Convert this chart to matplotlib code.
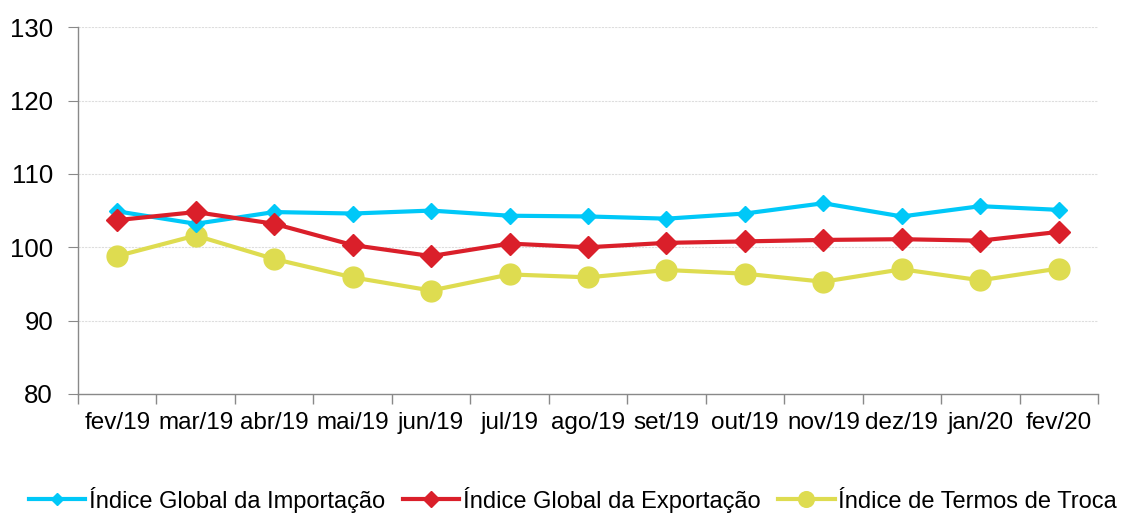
import matplotlib.pyplot as plt
import numpy as np

plt.rcParams['font.family'] = ['Liberation Sans', 'DejaVu Sans']

months = ['fev/19', 'mar/19', 'abr/19', 'mai/19', 'jun/19', 'jul/19', 'ago/19',
          'set/19', 'out/19', 'nov/19', 'dez/19', 'jan/20', 'fev/20']
importacao = [104.9, 103.2, 104.8, 104.6, 105.0, 104.3, 104.2, 103.9, 104.6, 106.0, 104.2, 105.6, 105.1]
exportacao = [103.7, 104.8, 103.2, 100.3, 98.8, 100.5, 100.0, 100.6, 100.8, 101.0, 101.1, 100.9, 102.1]
termos_troca = [98.8, 101.6, 98.4, 95.9, 94.1, 96.3, 95.9, 96.9, 96.4, 95.3, 97.0, 95.5, 97.1]

fig = plt.figure(figsize=(11.21, 5.13), dpi=100)
ax = fig.add_axes([0.0696, 0.232, 0.9099, 0.715])

x = np.arange(len(months))
ax.plot(x, importacao, color='#00C8F8', lw=3, marker='D', markersize=8,
        label='Índice Global da Importação', zorder=3)
ax.plot(x, exportacao, color='#DA1F2A', lw=3, marker='D', markersize=11,
        label='Índice Global da Exportação', zorder=4)
ax.plot(x, termos_troca, color='#DEDC50', lw=3, marker='o', markersize=15,
        label='Índice de Termos de Troca', zorder=2)

ax.set_xlim(-0.5, len(months) - 0.5)
ax.set_ylim(80, 130)
ax.set_yticks(range(80, 131, 10))
ax.set_xticks(x)
ax.set_xticklabels(months)
ax.set_xticks(np.arange(-0.5, len(months), 1), minor=True)
ax.tick_params(axis='x', which='major', length=0, pad=13, labelsize=17.5)
ax.tick_params(axis='x', which='minor', length=7, color='#898989', width=1)
ax.tick_params(axis='y', length=7, color='#898989', labelsize=18.5, pad=11)

for v in range(90, 131, 10):
    ax.axhline(v, color='#DDDDDD', lw=0.8, ls=(0, (2, 1)), zorder=0)

for s in ['top', 'right']:
    ax.spines[s].set_visible(False)
for s in ['left', 'bottom']:
    ax.spines[s].set_color('#898989')
    ax.spines[s].set_linewidth(1)

fig.legend(loc='center', bbox_to_anchor=(0.511, 0.026), ncol=3, frameon=False,
           fontsize=17, handlelength=2.4, columnspacing=0.75, handletextpad=0.15,
           markerscale=0.75)

fig.savefig('out.png', dpi=100)
